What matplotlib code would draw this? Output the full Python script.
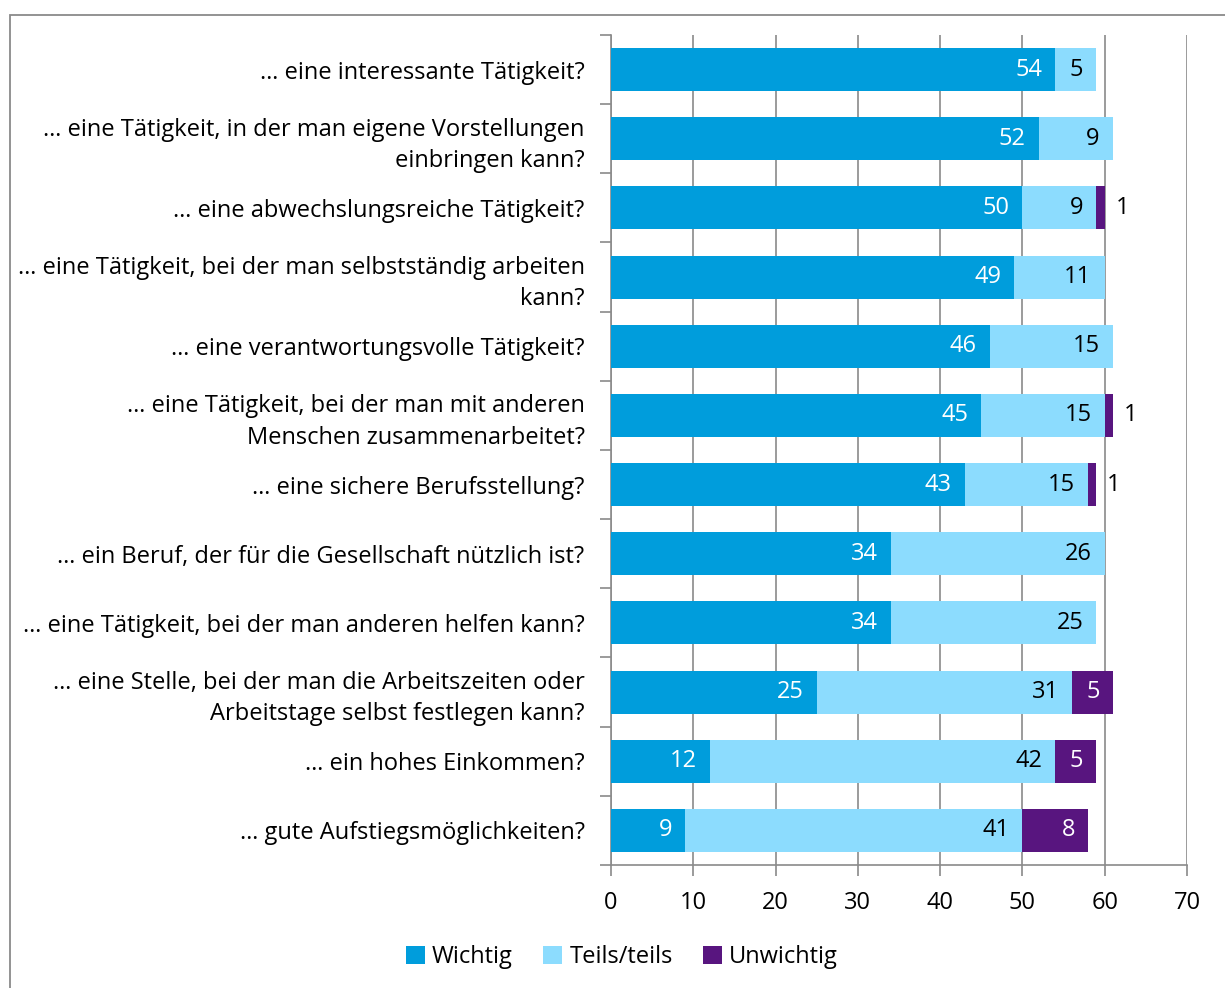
import matplotlib
matplotlib.use("Agg")
import matplotlib.pyplot as plt
import matplotlib.patches as mpatches
import numpy as np

plt.rcParams["font.family"] = ["Open Sans", "DejaVu Sans"]

# Data
categories = [
    "… eine interessante Tätigkeit?",
    "… eine Tätigkeit, in der man eigene Vorstellungen\neinbringen kann?",
    "… eine abwechslungsreiche Tätigkeit?",
    "… eine Tätigkeit, bei der man selbstständig arbeiten\nkann?",
    "… eine verantwortungsvolle Tätigkeit?",
    "… eine Tätigkeit, bei der man mit anderen\nMenschen zusammenarbeitet?",
    "… eine sichere Berufsstellung?",
    "… ein Beruf, der für die Gesellschaft nützlich ist?",
    "… eine Tätigkeit, bei der man anderen helfen kann?",
    "… eine Stelle, bei der man die Arbeitszeiten oder\nArbeitstage selbst festlegen kann?",
    "… ein hohes Einkommen?",
    "… gute Aufstiegsmöglichkeiten?",
]
wichtig = [54, 52, 50, 49, 46, 45, 43, 34, 34, 25, 12, 9]
teils = [5, 9, 9, 11, 15, 15, 15, 26, 25, 31, 42, 41]
unwichtig = [0, 0, 1, 0, 0, 1, 1, 0, 0, 5, 5, 8]
series_names = ["Wichtig", "Teils/teils", "Unwichtig"]
x_ticks = [0, 10, 20, 30, 40, 50, 60, 70]

colors = ["#009ddc", "#8cdcfe", "#58157f"]
label_colors = ["white", "black", "white"]
FS = 17

fig = plt.figure(figsize=(12.25, 9.88), dpi=100)
ax = fig.add_axes([611 / 1225, 1 - 865 / 988, 576 / 1225, 830 / 988])

# outer frame
fig.patches.append(mpatches.Rectangle(
    (10 / 1225, -0.1), 1.2, 1.1 - 15 / 988,
    transform=fig.transFigure, fill=False, edgecolor="#8a8a8a", linewidth=1.3))

y = np.arange(len(categories))
left = np.zeros(len(categories))
for vals, color, lcol, name in zip([wichtig, teils, unwichtig], colors, label_colors, series_names):
    vals = np.array(vals, dtype=float)
    ax.barh(y, vals, left=left, height=0.62, color=color, label=name, zorder=3)
    for yi, (l, v) in enumerate(zip(left, vals)):
        if v == 0:
            continue
        if v <= 1:
            ax.text(l + v + 1.3, yi, f"{int(v)}", ha="left", va="center",
                    fontsize=FS, color="black", zorder=4)
        else:
            ax.text(l + v - 1.6, yi, f"{int(v)}", ha="right", va="center",
                    fontsize=FS, color=lcol, zorder=4)
    left = left + vals

ax.set_xlim(0, 70)
ax.set_ylim(len(categories) - 0.5, -0.5)
ax.set_xticks(x_ticks)
ax.set_xticklabels([str(t) for t in x_ticks], fontsize=FS)
ax.set_yticks(y)
ax.set_yticklabels(categories, fontsize=FS, linespacing=1.4)
ax.tick_params(axis="y", length=0, pad=19)
ax.tick_params(axis="x", length=8, width=1.2, color="#8a8a8a", pad=11)

# category boundary ticks on y axis
ax.set_yticks(np.arange(-0.5, len(categories)), minor=True)
ax.tick_params(axis="y", which="minor", length=8, width=1.2, color="#8a8a8a")

ax.grid(axis="x", color="#8a8a8a", linewidth=1.2, zorder=0)
for side in ["top", "right"]:
    ax.spines[side].set_visible(False)
for side in ["left", "bottom"]:
    ax.spines[side].set_color("#8a8a8a")
    ax.spines[side].set_linewidth(1.2)

fig.legend(loc="center", bbox_to_anchor=(622 / 1225, 1 - 957 / 988), ncol=3,
           frameon=False, fontsize=FS, handlelength=0.8, handleheight=0.8,
           handletextpad=0.3, columnspacing=1.3)

fig.savefig("out.png", dpi=100)
